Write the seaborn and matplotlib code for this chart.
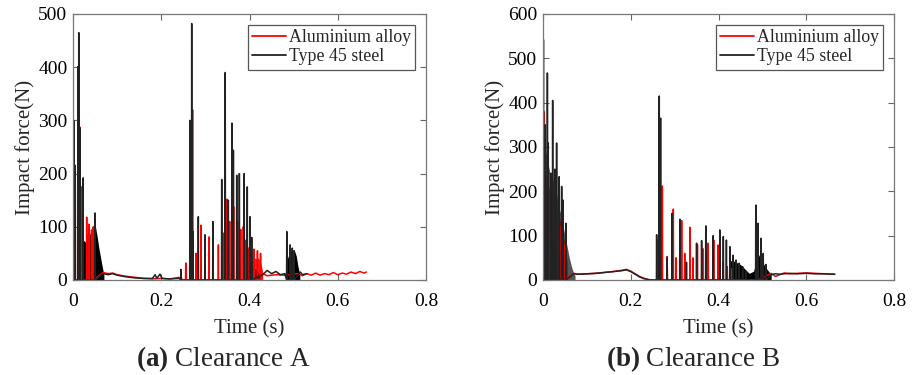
import numpy as np
import pandas as pd
import matplotlib
matplotlib.use("Agg")
import matplotlib.pyplot as plt
import seaborn as sns

sns.set_theme(style="white")
plt.rcParams["font.family"] = ["Liberation Serif", "DejaVu Serif"]
plt.rcParams["mathtext.fontset"] = "custom"
plt.rcParams["mathtext.rm"] = "Liberation Serif"
plt.rcParams["mathtext.bf"] = "Liberation Serif:bold"

LABELS = ["Aluminium alloy", "Type 45 steel"]
COLORS = {"Aluminium alloy": "#ff0000", "Type 45 steel": "#222222"}
x_ticks = [0, 0.2, 0.4, 0.6, 0.8]
yticks_a = [0, 100, 200, 300, 400, 500]
yticks_b = [0, 100, 200, 300, 400, 500, 600]
captions = ["(a)", "(b)"]
caption_text = ["Clearance A", "Clearance B"]

# ---------------- Clearance A ----------------
a_al_spike_t = [0.002, 0.005, 0.015, 0.019, 0.031, 0.036, 0.042, 0.046, 0.2555, 0.271, 0.279,
                0.290, 0.308, 0.3295, 0.341, 0.349, 0.355, 0.364, 0.373, 0.380, 0.386, 0.392, 0.398,
                0.404, 0.410, 0.418, 0.425]
a_al_spike_f = [290, 215, 288, 175, 118, 105, 94, 100, 32, 320, 50,
                103, 81, 66, 88, 152, 110, 138, 110, 95, 100, 75, 60,
                52, 58, 55, 50]
a_st_spike_t = [0.002, 0.004, 0.011, 0.013, 0.016, 0.023, 0.050, 0.245, 0.265, 0.269, 0.272,
                0.284, 0.299, 0.317, 0.337, 0.345, 0.352, 0.360, 0.3635, 0.371, 0.377, 0.388,
                0.395, 0.401, 0.405, 0.4845, 0.492, 0.497, 0.501]
a_st_spike_f = [300, 216, 401, 465, 286, 192, 126, 20, 300, 482, 91,
                119, 85, 110, 189, 390, 150, 295, 244, 197, 200, 200,
                175, 119, 80, 91, 66, 60, 55]
a_al_base_t = [0.068, 0.08, 0.09, 0.10, 0.12, 0.14, 0.16, 0.18, 0.20, 0.22, 0.24, 0.25,
               0.43, 0.44, 0.46, 0.48, 0.50, 0.51, 0.52, 0.53, 0.54, 0.55, 0.56, 0.57, 0.58,
               0.59, 0.60, 0.61, 0.62, 0.63, 0.64, 0.65, 0.66, 0.665]
a_al_base_f = [14, 12, 13, 10, 7, 5, 3, 2, 3, 2, 5, 0,
               12, 8, 10, 9, 11, 12, 8, 12, 9, 13, 9, 12, 10,
               14, 10, 13, 11, 15, 12, 16, 13, 15]
a_st_base_t = [0.068, 0.08, 0.09, 0.10, 0.12, 0.14, 0.16, 0.18, 0.186, 0.19, 0.197, 0.202,
               0.22, 0.24, 0.25, 0.43, 0.44, 0.45, 0.46, 0.47, 0.48, 0.515, 0.52, 0.53]
a_st_base_f = [12, 10, 12, 9, 6, 4, 3, 3, 10, 3, 11, 3,
               2, 3, 0, 10, 18, 12, 16, 10, 12, 15, 10, 12]
a_al_dense_t = [0.026, 0.030, 0.035, 0.040, 0.045, 0.050, 0.055]
a_al_dense_f = [60, 85, 90, 80, 95, 85, 50]
a_st_dense_t = [0.023, 0.027, 0.031, 0.035, 0.039, 0.043, 0.047, 0.051, 0.055, 0.059, 0.063, 0.067, 0.070]
a_st_dense_f = [75, 72, 70, 78, 88, 95, 105, 100, 80, 58, 40, 22, 10]
a_al_dense2_t = [0.400, 0.405, 0.410, 0.415, 0.420, 0.425, 0.430]
a_al_dense2_f = [30, 38, 42, 40, 42, 35, 15]
a_st_dense2_t = [0.482, 0.486, 0.490, 0.494, 0.498, 0.502, 0.506, 0.510, 0.514]
a_st_dense2_f = [10, 40, 50, 55, 50, 55, 45, 25, 10]
a_st_dense3_t = [0.398, 0.402, 0.406, 0.410, 0.414, 0.418, 0.422]
a_st_dense3_f = [30, 28, 25, 22, 20, 15, 8]

# ---------------- Clearance B ----------------
b_al_spike_t = [0.002, 0.012, 0.022, 0.031, 0.040, 0.048, 0.261, 0.272, 0.283, 0.297, 0.303,
                0.316, 0.323, 0.335, 0.342, 0.352, 0.364, 0.3765, 0.389, 0.399, 0.410, 0.420,
                0.430, 0.490]
b_al_spike_f = [380, 241, 165, 165, 120, 80, 90, 212, 53, 160, 50,
                134, 60, 119, 50, 80, 71, 83, 90, 79, 40, 30,
                25, 30]
b_st_spike_t = [0.001, 0.005, 0.010, 0.012, 0.018, 0.022, 0.027, 0.031, 0.037, 0.0425, 0.046,
                0.052, 0.259, 0.265, 0.268, 0.283, 0.294, 0.312, 0.327, 0.350, 0.3615, 0.371,
                0.388, 0.403, 0.411, 0.418, 0.426, 0.433, 0.440, 0.447, 0.455, 0.462, 0.485,
                0.490, 0.4966, 0.502, 0.508]
b_st_spike_f = [542, 350, 467, 309, 241, 405, 250, 309, 233, 211, 180,
                128, 102, 415, 365, 50, 150, 137, 40, 83, 89, 122,
                100, 113, 98, 90, 75, 56, 45, 38, 30, 20, 169,
                128, 94, 60, 35]
b_al_base_t = [0.070, 0.08, 0.10, 0.12, 0.14, 0.16, 0.18, 0.19, 0.20, 0.21, 0.22, 0.23, 0.24, 0.25,
               0.51, 0.52, 0.53, 0.54, 0.55, 0.56, 0.58, 0.60, 0.62, 0.64, 0.66, 0.665]
b_al_base_f = [15, 13, 14, 15, 17, 19, 22, 24, 20, 14, 8, 4, 1, 0,
               10, 15, 8, 12, 16, 14, 15, 16, 15, 14, 13, 13]
b_st_base_t = [0.070, 0.08, 0.10, 0.12, 0.14, 0.16, 0.18, 0.19, 0.20, 0.21, 0.22, 0.23, 0.24, 0.25,
               0.52, 0.53, 0.54, 0.56, 0.58, 0.60, 0.62, 0.64, 0.66, 0.665]
b_st_base_f = [14, 13, 14, 15, 17, 19, 21, 23, 19, 13, 7, 3, 1, 0,
               12, 14, 13, 15, 14, 15, 14, 14, 13, 13]
b_al_dense_t = [0.000, 0.010, 0.020, 0.030, 0.040, 0.050, 0.055]
b_al_dense_f = [260, 220, 190, 170, 130, 80, 40]
b_st_dense_t = [0.000, 0.004, 0.008, 0.012, 0.016, 0.020, 0.025, 0.030, 0.035, 0.040, 0.045,
                0.050, 0.055, 0.060, 0.065, 0.070, 0.073]
b_st_dense_f = [350, 300, 280, 260, 240, 230, 220, 200, 170, 150, 125, 100, 75, 50, 30, 15, 10]
b_st_dense2_t = [0.425, 0.430, 0.440, 0.450, 0.460, 0.470, 0.480, 0.490, 0.500, 0.510, 0.520]
b_st_dense2_f = [40, 45, 40, 35, 25, 15, 20, 60, 40, 25, 12]


def build(spike_t, spike_f, base_t, base_f, label, w=0.0005):
    t = list(base_t)
    f = list(base_f)
    for st, sf in zip(spike_t, spike_f):
        t += [st - w, st, st + w]
        f += [0, sf, 0]
    return pd.DataFrame({"Time": t, "Force": f, "Material": label})


fig = plt.figure(figsize=(9.17, 3.75), dpi=100)
ax_a = fig.add_axes([73 / 917, 95 / 375, 353 / 917, 266 / 375])
ax_b = fig.add_axes([543 / 917, 95 / 375, 351 / 917, 266 / 375])

panels = [
    (ax_a, yticks_a,
     (a_al_spike_t, a_al_spike_f, a_al_base_t, a_al_base_f),
     (a_st_spike_t, a_st_spike_f, a_st_base_t, a_st_base_f),
     [(a_al_dense_t, a_al_dense_f, "#ff0000", 1.0), (a_al_dense2_t, a_al_dense2_f, "#ff2020", 1.0)],
     [(a_st_dense_t, a_st_dense_f, "#000000", 1.5), (a_st_dense2_t, a_st_dense2_f, "#000000", 1.5),
      (a_st_dense3_t, a_st_dense3_f, "#111111", 1.5)]),
    (ax_b, yticks_b,
     (b_al_spike_t, b_al_spike_f, b_al_base_t, b_al_base_f),
     (b_st_spike_t, b_st_spike_f, b_st_base_t, b_st_base_f),
     [(b_al_dense_t, b_al_dense_f, "#6a1a1a", 1.3)],
     [(b_st_dense_t, b_st_dense_f, "#555555", 1.0), (b_st_dense2_t, b_st_dense2_f, "#000000", 1.5)]),
]

for i, (ax, yt, al, st, al_dense, st_dense) in enumerate(panels):
    for dt, df_, c, z in al_dense + st_dense:
        ax.fill_between(dt, 0, df_, color=c, lw=0, zorder=z)
    data = pd.concat([build(*al, LABELS[0]), build(*st, LABELS[1])], ignore_index=True)
    sns.lineplot(data=data, x="Time", y="Force", hue="Material", hue_order=LABELS,
                 palette=COLORS, estimator=None, sort=True, linewidth=1.1, ax=ax, zorder=2)
    ax.set_xlim(0, 0.8)
    ax.set_ylim(0, yt[-1])
    ax.set_xticks(x_ticks)
    ax.set_xticklabels(["0", "0.2", "0.4", "0.6", "0.8"])
    ax.set_yticks(yt)
    ax.tick_params(direction="in", length=4, width=0.8, color="#666666", labelsize=14,
                   top=True, right=True, bottom=True, left=True, labelcolor="#000000")
    ax.tick_params(axis="x", pad=9)
    ax.tick_params(axis="y", pad=4)
    for s in ax.spines.values():
        s.set_color("#777777")
        s.set_linewidth(0.9)
    ax.set_xlabel("Time (s)", fontsize=15, labelpad=7)
    ax.set_ylabel("Impact force(N)", fontsize=15, labelpad=2)
    leg = ax.legend(loc="upper right", fontsize=12.8, frameon=True, fancybox=False,
                    edgecolor="#555555", framealpha=1, handlelength=1.9, handletextpad=0.15,
                    borderpad=0.25, labelspacing=0.12, borderaxespad=0.6)
    leg.get_frame().set_linewidth(0.9)
    for h in leg.get_lines():
        h.set_linewidth(1.3)
    ax.set_facecolor("white")
    cx = [224 / 917, 693 / 917][i]
    fig.text(cx, 9 / 375, r"$\mathbf{" + captions[i] + "}$ " + caption_text[i],
             ha="center", va="baseline", fontsize=19.5)

fig.savefig("out.png", dpi=100, facecolor="white")
